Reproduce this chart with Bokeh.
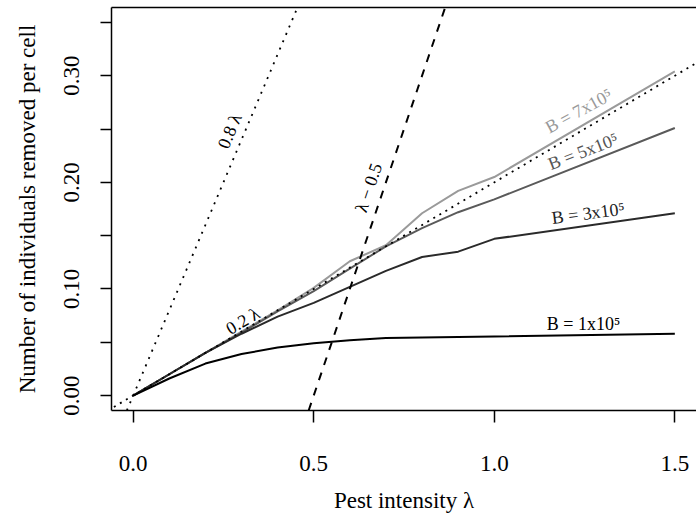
from bokeh.plotting import figure
from bokeh.models import (Range1d, FixedTicker, NumeralTickFormatter, Slope,
                          LinearAxis, ColumnDataSource)
from bokeh.core.properties import value
from bokeh.embed import file_html
from bokeh.resources import INLINE

# ---------------- data ----------------
pest_intensity = [0, 0.1, 0.2, 0.3, 0.4, 0.5, 0.6, 0.7, 0.8, 0.9, 1.0, 1.5]
removed_b1 = [0, 0.016, 0.030, 0.039, 0.045, 0.049, 0.052, 0.054, 0.0545, 0.055, 0.0555, 0.058]
removed_b3 = [0, 0.020, 0.040, 0.058, 0.074, 0.087, 0.102, 0.117, 0.130, 0.135, 0.147, 0.171]
removed_b5 = [0, 0.020, 0.040, 0.059, 0.079, 0.098, 0.119, 0.140, 0.157, 0.172, 0.184, 0.251]
removed_b7 = [0, 0.020, 0.040, 0.060, 0.080, 0.101, 0.126, 0.141, 0.171, 0.192, 0.205, 0.304]

ref_gradients = [0.8, 0.2, 1.0]
ref_intercepts = [0.0, 0.0, -0.5]

x_ticks = [0.0, 0.5, 1.0, 1.5]
y_ticks = [0.0, 0.1, 0.2, 0.3]
y_minor_ticks = [0.05, 0.15, 0.25, 0.35]

label_text = ["0.8 \u03bb", "0.2 \u03bb", "\u03bb \u2212 0.5",
              "B = 7x10\u2075", "B = 5x10\u2075", "B = 3x10\u2075", "B = 1x10\u2075"]
label_x = [0.267, 0.304, 0.652, 1.234, 1.246, 1.26, 1.247]
label_y = [0.248, 0.070, 0.195, 0.267, 0.229, 0.171, 0.067]
label_angle = [1.17, 0.534, 1.245, 0.50, 0.37, 0.13, 0.0]
label_color = ["black", "black", "black", "#999999", "#555555", "#222222", "black"]

FONT = "Liberation Serif"

p = figure(width=696, height=515, output_backend="svg", toolbar_location=None,
           x_range=Range1d(-0.06, 1.56), y_range=Range1d(-0.014, 0.364),
           min_border_left=111, min_border_right=0, min_border_top=7,
           min_border_bottom=103, background_fill_color="white",
           border_fill_color="white")
p.outline_line_color = None
p.grid.visible = False

# curves
p.line(pest_intensity, removed_b7, line_color="#9a9a9a", line_width=2)
p.line(pest_intensity, removed_b5, line_color="#5a5a5a", line_width=2)
p.line(pest_intensity, removed_b3, line_color="#2a2a2a", line_width=2)
p.line(pest_intensity, removed_b1, line_color="#000000", line_width=2)

# reference lines
dashes = ["2 6", "2 5", "8 8"]
for g, b, d in zip(ref_gradients, ref_intercepts, dashes):
    p.add_layout(Slope(gradient=g, y_intercept=b, line_color="black",
                       line_width=1.8 if d != "8 8" else 2, line_dash=d))

src = ColumnDataSource(dict(x=label_x, y=label_y, text=label_text,
                            angle=label_angle, color=label_color))
p.text(x="x", y="y", text="text", angle="angle", text_color="color", source=src,
       text_font=value(FONT), text_font_size=value("18px"),
       text_align="center", text_baseline="middle")

# axes
xa = p.xaxis[0]
xa.ticker = FixedTicker(ticks=x_ticks)
xa.formatter = NumeralTickFormatter(format="0.0")
xa.axis_label = "Pest intensity \u03bb"
ya = p.yaxis[0]
ya.ticker = FixedTicker(ticks=y_ticks, minor_ticks=y_minor_ticks)
ya.formatter = NumeralTickFormatter(format="0.00")
ya.major_label_orientation = "vertical"
ya.axis_label = "Number of individuals removed per cell"
for ax in (xa, ya):
    ax.axis_line_color = "black"
    ax.axis_line_width = 1.5
    ax.major_tick_line_color = "black"
    ax.major_tick_line_width = 1.5
    ax.minor_tick_line_color = "black"
    ax.minor_tick_line_width = 1.5
    ax.major_tick_in = 0
    ax.minor_tick_in = 0
    ax.major_label_text_font = FONT
    ax.major_label_text_font_size = "23px"
    ax.major_label_text_color = "black"
    ax.axis_label_text_font = FONT
    ax.axis_label_text_font_size = "23px"
    ax.axis_label_text_font_style = "normal"
    ax.axis_label_text_color = "black"
xa.major_tick_out = 12
xa.minor_tick_out = 0
xa.major_label_standoff = 33
xa.axis_label_standoff = 14
ya.major_tick_out = 11
ya.minor_tick_out = 11
ya.major_label_standoff = 21
ya.axis_label_standoff = 22

# top border
top = LinearAxis(ticker=FixedTicker(ticks=[]), major_label_text_font_size="0px",
                 major_tick_out=0, major_tick_in=0, minor_tick_out=0, minor_tick_in=0,
                 axis_line_width=1.5, axis_line_color="black")
p.add_layout(top, "above")

open("out.html", "w").write(file_html(p, INLINE))
